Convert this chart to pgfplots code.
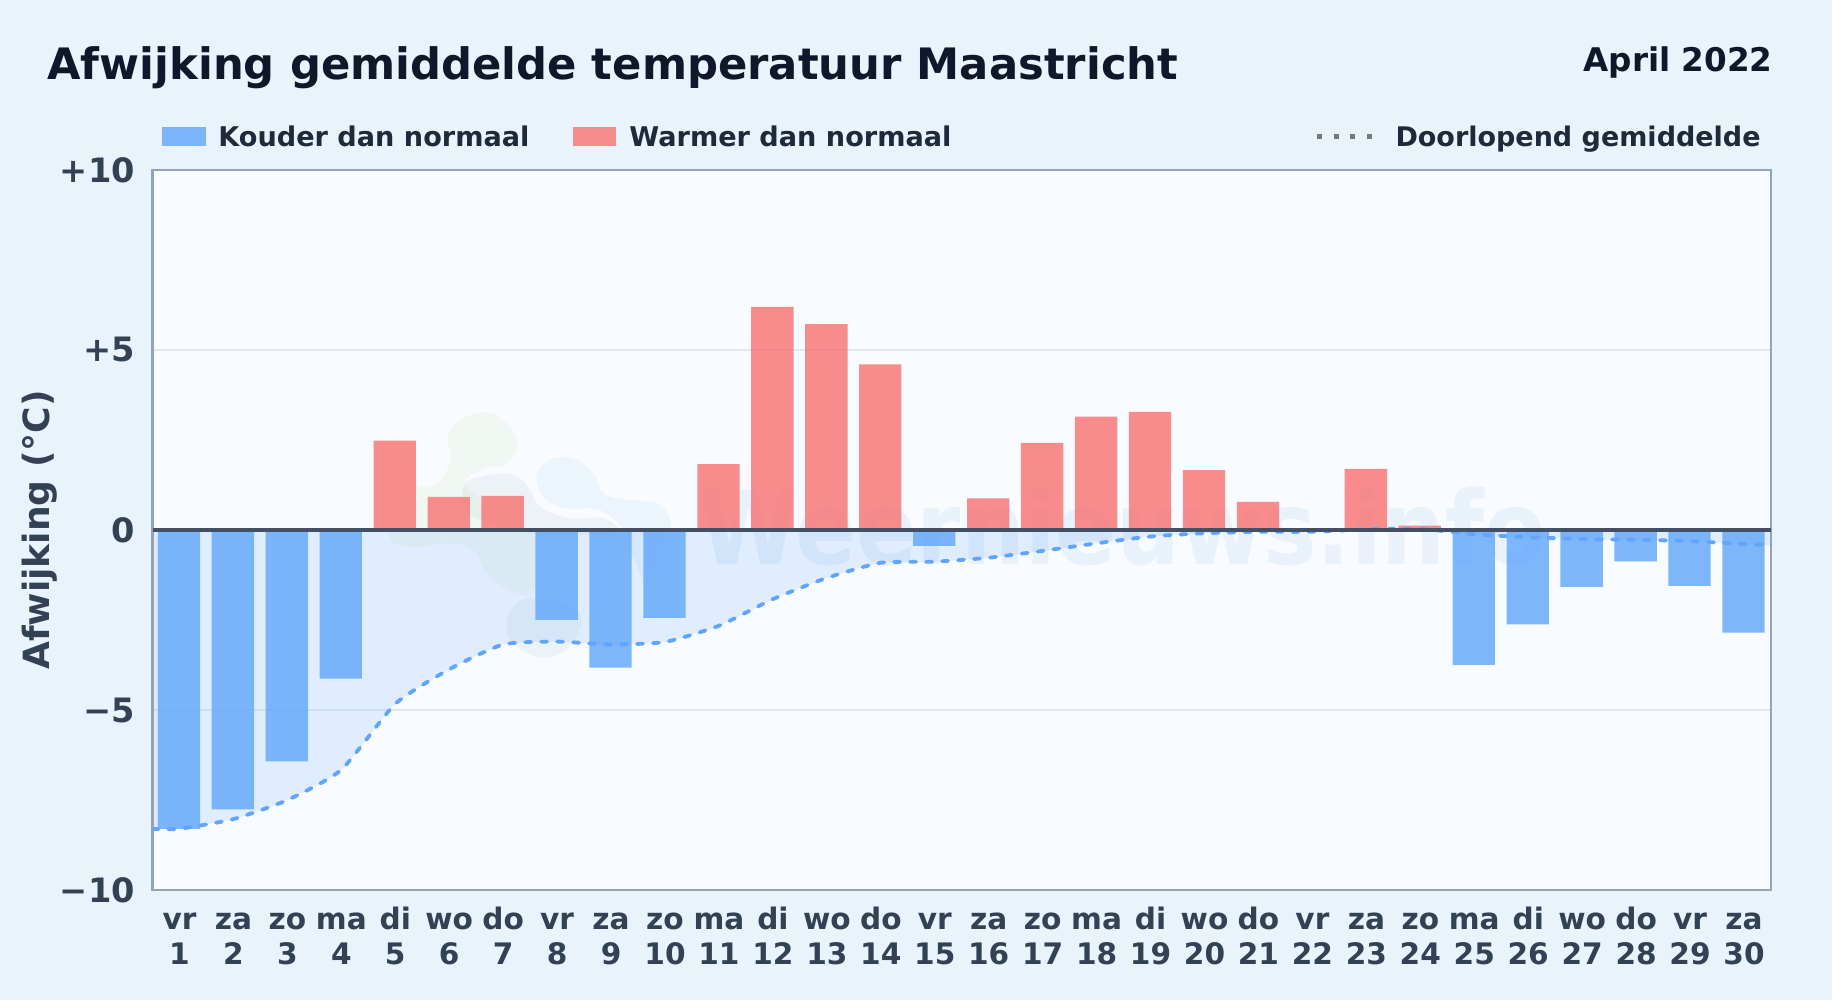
\documentclass[border=0pt]{standalone}
\usepackage{fontspec}
\setmainfont{DejaVu Sans}
\usepackage{pgfplots}
\pgfplotsset{compat=1.18}

\definecolor{pagebg}{HTML}{E8F3FC}
\definecolor{plotbg}{HTML}{F8FBFF}
\definecolor{titlecol}{HTML}{0F172A}
\definecolor{legendcol}{HTML}{1E293B}
\definecolor{tickcol}{HTML}{334155}
\definecolor{framecol}{HTML}{94A3B8}
\definecolor{gridcol}{HTML}{E2E8F0}
\definecolor{cold}{HTML}{60A5FA}
\definecolor{warm}{HTML}{F87171}

% two line day label, first line always as high as a "d"
\newcommand{\dl}[2]{\vphantom{d}#1\\#2}

\begin{document}
% all TikZ coordinates below are in reference pixels (y measured from the bottom)
\begin{tikzpicture}[x=0.5pt,y=0.5pt]
	\fill[pagebg] (0,0) rectangle (1832,1000);
	\fill[plotbg] (152.5,110) rectangle (1771,830);

	% faint logo behind the plot (top-down y)
	\begin{scope}[shift={(370,610)},x=0.1667pt,y=-0.1667pt]
		\fill[green!40!yellow!60!gray,opacity=0.06] plot[smooth cycle,tension=0.7] coordinates {
			(235,130) (300,75) (380,75) (440,150) (410,220) (330,240) (300,300) (500,450)
			(490,600) (420,600) (350,550) (310,480) (230,460) (130,470) (60,440) (110,310)
			(200,280) (240,210)};
		\fill[framecol,opacity=0.1] plot[smooth cycle,tension=0.7] coordinates {
			(280,290) (340,258) (430,255) (480,300) (510,350) (600,385) (700,385) (730,430)
			(500,430) (400,410) (300,370)};
		\fill[cold,opacity=0.08] plot[smooth cycle,tension=0.7] coordinates {
			(500,260) (540,210) (610,205) (670,250) (700,310) (780,330) (860,340) (900,390)
			(890,450) (830,560) (790,500) (760,420) (690,360) (600,355) (530,330)};
		\fill[framecol,opacity=0.1] plot[smooth cycle,tension=0.7] coordinates {
			(410,700) (440,640) (510,625) (620,660) (625,730) (570,790) (500,800) (430,760)};
	\end{scope}
	\node[anchor=base west,inner sep=0pt,text=cold!80!gray,opacity=0.1,xscale=0.88,transform shape,
		font=\fontsize{51}{51}\selectfont\bfseries]
		at (699,435) {Weernieuws.info};

	\begin{axis}[
		at={(76.25pt,55pt)},
		anchor=south west,
		scale only axis,
		width=809.25pt,
		height=360pt,
		xmin=0.5, xmax=30.5,
		ymin=-10, ymax=10,
		axis line style={framecol,line width=1.4pt},
		major tick length=0pt,
		ymajorgrids,
		grid style={gridcol,line width=0.7pt},
		ytick={-10,-5,0,5,10},
		yticklabels={−10,−5,0,+5,+10},
		xtick={1,...,30},
		xticklabels={{\dl{vr}{1}},{\dl{za}{2}},{\dl{zo}{3}},{\dl{ma}{4}},{\dl{di}{5}},{\dl{wo}{6}},{\dl{do}{7}},{\dl{vr}{8}},{\dl{za}{9}},{\dl{zo}{10}},
			{\dl{ma}{11}},{\dl{di}{12}},{\dl{wo}{13}},{\dl{do}{14}},{\dl{vr}{15}},{\dl{za}{16}},{\dl{zo}{17}},{\dl{ma}{18}},{\dl{di}{19}},{\dl{wo}{20}},
			{\dl{do}{21}},{\dl{vr}{22}},{\dl{za}{23}},{\dl{zo}{24}},{\dl{ma}{25}},{\dl{di}{26}},{\dl{wo}{27}},{\dl{do}{28}},{\dl{vr}{29}},{\dl{za}{30}}},
		x tick label style={align=center,text=tickcol,font=\fontsize{14.8}{17.5}\selectfont\bfseries},
		y tick label style={text=tickcol,font=\fontsize{16.8}{20}\selectfont\bfseries},
		xticklabel shift=5pt,
		yticklabel shift=5.3pt,
		ylabel={Afwijking (°C)},
		ylabel style={at={(axis description cs:-0.0698,0.5)},anchor=center,text=tickcol,
			font=\fontsize{18.05}{20}\selectfont\bfseries},
	]
	% running mean, area up to zero
	\addplot[draw=none,fill=cold,fill opacity=0.16,smooth,tension=0.35,forget plot] coordinates {
		(0.5,-8.30) (1,-8.30) (2,-8.03) (3,-7.50) (4,-6.66) (5,-4.83) (6,-3.87) (7,-3.18) (8,-3.10)
		(9,-3.18) (10,-3.11) (11,-2.66) (12,-1.92) (13,-1.33) (14,-0.91) (15,-0.88) (16,-0.77)
		(17,-0.58) (18,-0.37) (19,-0.18) (20,-0.09) (21,-0.05) (22,-0.05) (23,0.02) (24,0.03)
		(25,-0.12) (26,-0.20) (27,-0.25) (28,-0.27) (29,-0.31) (30,-0.39) (30.5,-0.42)
	} \closedcycle;

	\addplot[ybar,bar width=0.785,bar shift=-0.01,draw=none,fill=cold,fill opacity=0.8] coordinates {
		(1,-8.30) (2,-7.76) (3,-6.43) (4,-4.13) (8,-2.50) (9,-3.82) (10,-2.44) (15,-0.44)
		(25,-3.75) (26,-2.62) (27,-1.58) (28,-0.87) (29,-1.55) (30,-2.85)
	};
	\addplot[ybar,bar width=0.785,bar shift=-0.01,draw=none,fill=warm,fill opacity=0.8] coordinates {
		(5,2.48) (6,0.92) (7,0.95) (11,1.83) (12,6.20) (13,5.72) (14,4.60) (16,0.88) (17,2.42)
		(18,3.15) (19,3.28) (20,1.66) (21,0.78) (23,1.70) (24,0.12)
	};

	\addplot[cold,line width=1.9pt,line cap=round,dash pattern=on 3pt off 5pt,smooth,tension=0.35] coordinates {
		(0.5,-8.30) (1,-8.30) (2,-8.03) (3,-7.50) (4,-6.66) (5,-4.83) (6,-3.87) (7,-3.18) (8,-3.10)
		(9,-3.18) (10,-3.11) (11,-2.66) (12,-1.92) (13,-1.33) (14,-0.91) (15,-0.88) (16,-0.77)
		(17,-0.58) (18,-0.37) (19,-0.18) (20,-0.09) (21,-0.05) (22,-0.05) (23,0.02) (24,0.03)
		(25,-0.12) (26,-0.20) (27,-0.25) (28,-0.27) (29,-0.31) (30,-0.39) (30.5,-0.42)
	};

	% zero line
	\addplot[tickcol!92,line width=2.1pt] coordinates {(0.5,0) (30.5,0)};
	\end{axis}

	% title block
	\node[anchor=base west,inner sep=0pt,text=titlecol,font=\fontsize{21.65}{24}\selectfont\bfseries]
		at (47,920) {Afwijking gemiddelde temperatuur Maastricht};
	\node[anchor=base east,inner sep=0pt,text=titlecol,font=\fontsize{16.3}{18}\selectfont\bfseries]
		at (1773,928) {April 2022};

	% legend
	\fill[cold,opacity=0.8] (162,854) rectangle (206,873);
	\node[anchor=base west,inner sep=0pt,text=legendcol,font=\fontsize{13.56}{15}\selectfont\bfseries]
		at (218,853.5) {Kouder dan normaal};
	\fill[warm,opacity=0.8] (573,854) rectangle (616,873);
	\node[anchor=base west,inner sep=0pt,text=legendcol,font=\fontsize{13.56}{15}\selectfont\bfseries]
		at (629,853.5) {Warmer dan normaal};
	\draw[tickcol!70,line width=2.5pt,dash pattern=on 2.5pt off 5.75pt] (1317,863) -- (1373,863);
	\node[anchor=base east,inner sep=0pt,text=legendcol,font=\fontsize{13.5}{15}\selectfont\bfseries]
		at (1761,853.5) {Doorlopend gemiddelde};
\end{tikzpicture}
\end{document}
